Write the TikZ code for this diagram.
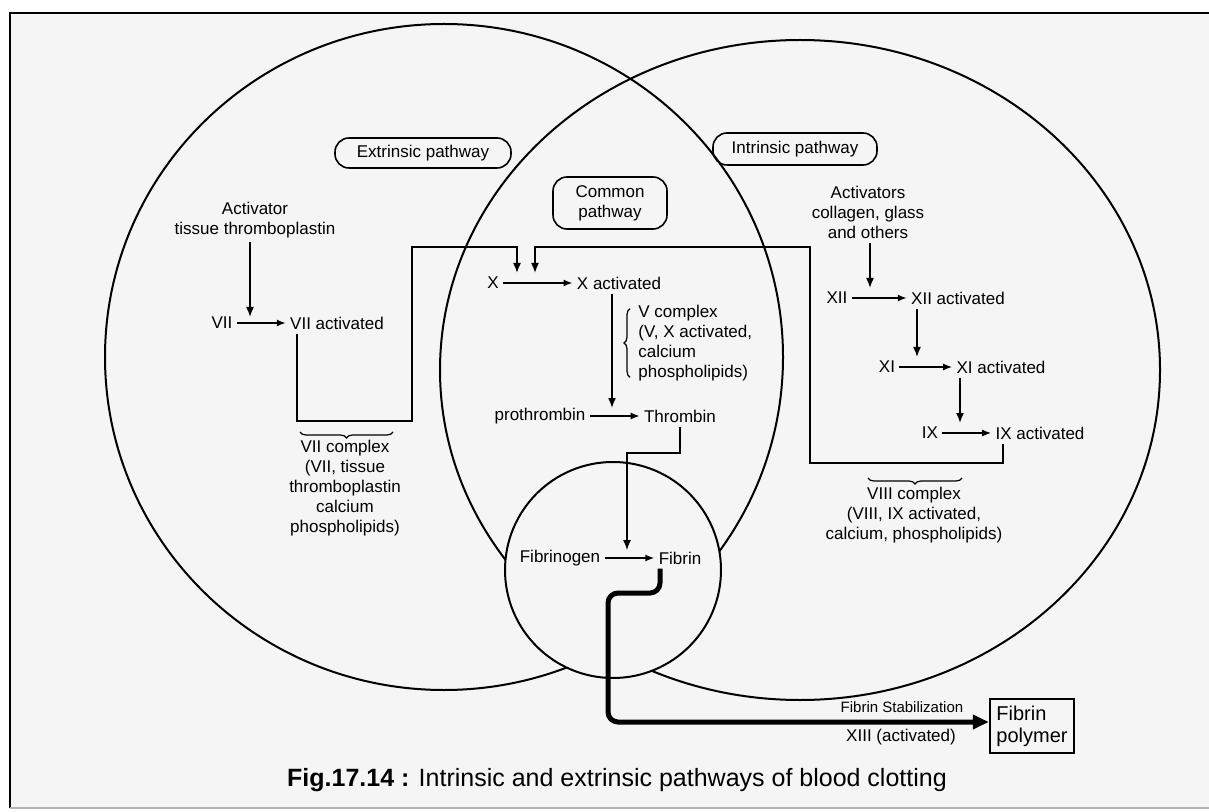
\documentclass[tikz,border=0pt]{standalone}
\usepackage{fontspec}
\setmainfont{Liberation Sans}
\usetikzlibrary{positioning, arrows.meta, decorations.pathreplacing}
\tikzset{
    factor/.style={inner sep=2pt, font=\fontsize{8.5}{10}\selectfont, align=center},
    pathbox/.style={factor, draw, rounded corners=7pt, line width=0.8pt, inner xsep=6pt},
    reaction/.style={-{Latex[length=4.5pt, width=3.5pt]}, line width=0.8pt},
    feed/.style={-{Latex[length=5pt, width=4pt]}, line width=0.8pt},
    cbrace/.style={decorate, decoration={brace, amplitude=3pt}, line width=0.6pt},
    venn/.style={line width=1pt},
    stabil/.style={-{Triangle[length=8pt, width=7pt]}, line width=2.5pt, rounded corners=5pt},
    smallnote/.style={font=\fontsize{7.5}{9}\selectfont, inner sep=1pt}
}

\begin{document}
\begin{tikzpicture}[x=0.5pt, y=-0.5pt]
    \useasboundingbox (0,0) rectangle (1209,812);
    \fill[white] (0,0) rectangle (1209,812);
    \fill[black!4] (10,13) rectangle (1209,808);
    \draw[line width=1.4pt] (10,808) -- (10,13) -- (1209,13);
    \draw[black!30, line width=0.6pt] (10,808) -- (1209,808);

    % the three pathways
    \draw[venn] (444,357) ellipse [x radius=169.5pt, y radius=166.5pt];
    \draw[venn] (800,370) ellipse [x radius=180pt, y radius=165pt];
    \draw[venn, fill=black!4] (613,570) circle [radius=54pt];

    \node[pathbox, minimum width=88pt, minimum height=15pt] (extr) at (423,153) {Extrinsic pathway};
    \node[pathbox, minimum width=57pt, minimum height=26pt] (comm) at (610,203) {Common\\pathway};
    \node[pathbox, minimum width=82pt, minimum height=16pt] (intr) at (795,149) {Intrinsic pathway};

    % extrinsic
    \node[factor] (act) at (255,220) {Activator\\tissue thromboplastin};
    \node[factor] (vii) at (222,323) {VII};
    \node[factor] (viia) at (337,323) {VII activated};
    \coordinate (vii-hit) at (250,317);
    \draw[reaction] (vii) -- (viia);
    \draw[feed] (act.south -| vii-hit) -- (vii-hit);

    \node[factor] (viicx) at (345,488) {VII complex\\(VII, tissue\\thromboplastin\\calcium\\phospholipids)};
    \draw[cbrace] (393,432) -- (300,432);

    % common
    \node[factor] (x) at (493,283) {X};
    \node[factor] (xa) at (619,283) {X activated};
    \draw[reaction] (x) -- (xa);
    \node[factor] (pro) at (540,416) {prothrombin};
    \node[factor] (thr) at (680,416) {Thrombin};
    \draw[reaction] (pro) -- (thr);
    \coordinate (pro-hit) at (612,408);
    \draw[feed] (xa.south -| pro-hit) -- (pro-hit);
    \node[factor, align=left, anchor=west] (vcx) at (634,343) {V complex\\(V, X activated,\\calcium\\phospholipids)};
    \draw[cbrace] ([xshift=-2pt, yshift=4pt]vcx.south west) -- ([xshift=-2pt, yshift=-4pt]vcx.north west);

    \node[factor] (fbg) at (560,558) {Fibrinogen};
    \node[factor] (fib) at (680,558) {Fibrin};
    \draw[reaction] (fbg) -- (fib);
    \coordinate (thr-bend) at (680,453);
    \coordinate (fib-hit) at (627,550);
    \draw[feed, line width=0.6pt] (thr.south) -- (thr-bend) -| (fib-hit);

    % intrinsic
    \node[factor] (acts) at (868,212) {Activators\\collagen, glass\\and others};
    \node[factor] (xii) at (837,298) {XII};
    \node[factor] (xiia) at (958,298) {XII activated};
    \node[factor] (xi) at (887,367) {XI};
    \node[factor] (xia) at (1001,367) {XI activated};
    \node[factor] (ix) at (930,433) {IX};
    \node[factor] (ixa) at (1040,433) {IX activated};
    \draw[reaction] (xii) -- (xiia);
    \draw[reaction] (xi) -- (xia);
    \draw[reaction] (ix) -- (ixa);
    \coordinate (xii-hit) at (870,288);
    \coordinate (xi-hit) at (917,357);
    \coordinate (ix-hit) at (960,423);
    \draw[feed] (acts.south -| xii-hit) -- (xii-hit);
    \draw[feed] (xiia.south -| xi-hit) -- (xi-hit);
    \draw[feed] (xia.south -| ix-hit) -- (ix-hit);

    \node[factor] (viiicx) at (914,515) {VIII complex\\(VIII, IX activated,\\calcium, phospholipids)};
    \draw[cbrace] (962,478) -- (868,478);

    % complexes feeding X
    \coordinate (ext-a) at (297,421);
    \coordinate (ext-b) at (412,247);
    \coordinate (xa-hit1) at (517,273);
    \draw[feed] (viia.south -| ext-a) -- (ext-a) -| (ext-b) -| (xa-hit1);
    \coordinate (int-a) at (1003,463);
    \coordinate (int-b) at (810,247);
    \coordinate (xa-hit2) at (535,273);
    \draw[feed] (ixa.south -| int-a) -- (int-a) -| (int-b) -| (xa-hit2);

    % stabilization
    \node[draw, line width=1pt, font=\fontsize{10}{11}\selectfont, align=left, minimum width=39.5pt, minimum height=26pt] (poly) at (1032,726) {Fibrin\\polymer};
    \coordinate (stab-a) at (660,593);
    \coordinate (stab-b) at (608,722);
    \draw[stabil] (fib.south -| stab-a) -- (stab-a) -| (stab-b) -- (poly.west |- stab-b);
    \node[smallnote] (stabtxt) at (902,707) {Fibrin Stabilization};
    \node[smallnote, font=\fontsize{8.5}{10}\selectfont] (xiii) at (901,737) {XIII (activated)};

    \node[font=\fontsize{12.5}{14}\selectfont] (cap) at (617,780) {\textbf{Fig.17.14 :} Intrinsic and extrinsic pathways of blood clotting};
\end{tikzpicture}
\end{document}
